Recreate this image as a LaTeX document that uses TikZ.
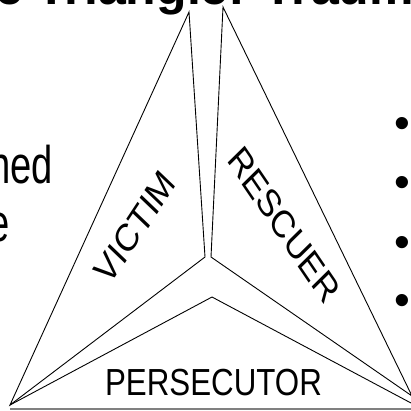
\documentclass[tikz,border=0pt]{standalone}
\usepackage{fontspec}
\setmainfont{Liberation Sans}
\begin{document}
\begin{tikzpicture}[x=1pt,y=-1pt,
  edge/.style={draw=black, line width=0.9pt, line join=miter},
  baseline/.style={draw=gray, line width=2pt},
  lbl/.style={font=\fontsize{38.5}{40}\selectfont, inner sep=0pt, outer sep=0pt},
  bigtext/.style={font=\fontsize{53}{59}\selectfont, inner sep=0pt, outer sep=0pt, anchor=base east},
  bul/.style={font=\fontsize{45}{50}\selectfont, inner sep=0pt, outer sep=0pt, anchor=base}]
\useasboundingbox (0,0) rectangle (411,410);
\clip (0,0) rectangle (411,410);
% title (cut off at the top)
\node[anchor=base west, inner sep=0pt, font=\fontsize{50}{55}\selectfont\bfseries] (title) at (-66,4) {The Triangle: Trauma};
% left text (cut off at the left)
\node[bigtext] (lt1) at (53,183) {\scalebox{0.72}[1]{ned}};
\node[bigtext] (lt2) at (10,241) {\scalebox{0.72}[1]{e}};
% bullets
\node[bul] (b1) at (402,138) {•};
\node[bul] (b2) at (402,197) {•};
\node[bul] (b3) at (402,257) {•};
\node[bul] (b4) at (402,315) {•};
% victim
\coordinate (vA) at (189,12);
\coordinate (vB) at (205,257);
\coordinate (vC) at (10,405);
\draw[edge] (vA) -- (vB) -- (vC) -- cycle;
% rescuer
\coordinate (rA) at (223,7);
\coordinate (rB) at (211,257);
\coordinate (rC) at (412,396);
\draw[edge] (rA) -- (rB) -- (rC) -- cycle;
% persecutor
\coordinate (pA) at (212,297);
\coordinate (pB) at (10,405);
\coordinate (pC) at (411,403);
\draw[edge] (pB) -- (pA) -- (pC);
\coordinate (gL) at (10,408.5);
\coordinate (gR) at (411,408.5);
\draw[baseline] (gL) -- (gR);
% labels
\begin{scope}[xscale=0.83, transform shape]
\node[lbl, rotate=51.5] (victim) at (162.7,227) {VICTIM};
\node[lbl, rotate=-50.7] (rescuer) at (342.2,225) {RESCUER};
\end{scope}
\begin{scope}[xscale=0.83, transform shape]
\node[lbl, anchor=base, font=\fontsize{37.7}{40}\selectfont] (persecutor) at (257.2,395) {PERSECUTOR};
\end{scope}
\end{tikzpicture}
\end{document}
